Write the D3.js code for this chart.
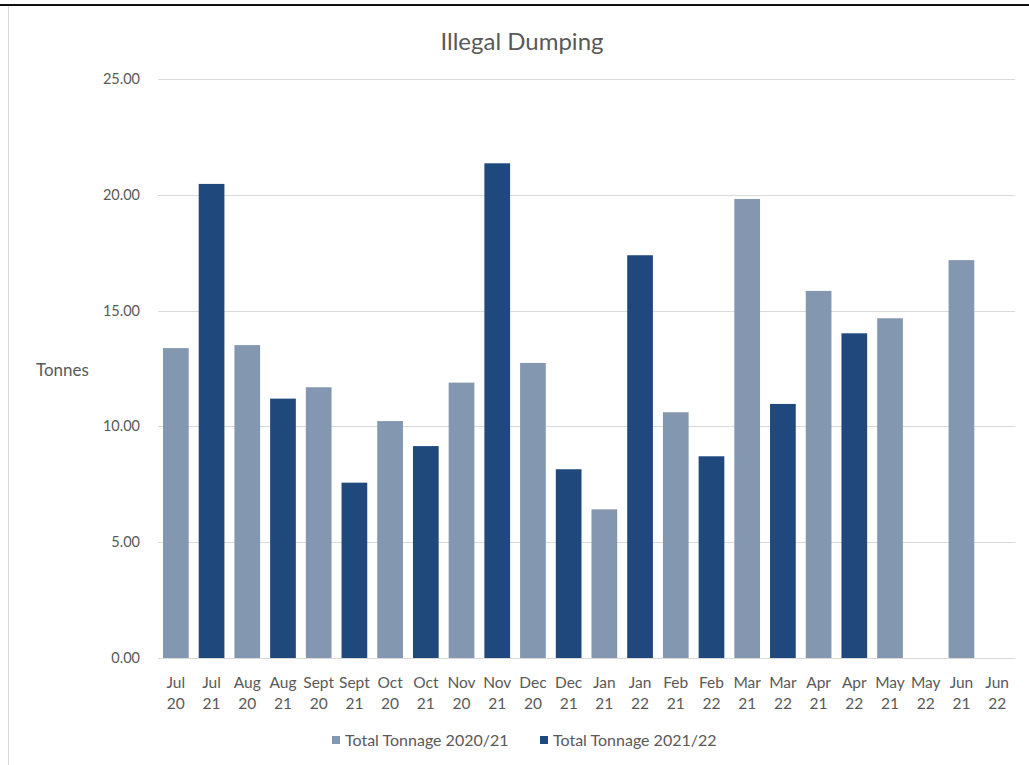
<!DOCTYPE html>
<html>
<head>
<meta charset="utf-8">
<script src="https://cdn.jsdelivr.net/npm/d3@7"></script>
<style>
  body { margin: 0; background: #fff; }
  svg { display: block; font-family: Lato, "Open Sans", sans-serif; }
</style>
</head>
<body>
<svg id="chart" width="1029" height="765"></svg>
<script>
// month labels on the x axis, two lines each (month / year)
const categories = [
  "Jul 20", "Jul 21", "Aug 20", "Aug 21", "Sept 20", "Sept 21",
  "Oct 20", "Oct 21", "Nov 20", "Nov 21", "Dec 20", "Dec 21",
  "Jan 21", "Jan 22", "Feb 21", "Feb 22", "Mar 21", "Mar 22",
  "Apr 21", "Apr 22", "May 21", "May 22", "Jun 21", "Jun 22"
];
// Total Tonnage 2020/21 -> the "xx 20 / xx 21" categories (even positions)
const tonnage2021 = [13.38, 13.51, 11.69, 10.23, 11.89, 12.74, 6.42, 10.61, 19.82, 15.85, 14.67, 17.18];
// Total Tonnage 2021/22 -> odd positions, May/Jun 22 not reported yet
const tonnage2122 = [20.47, 11.2, 7.57, 9.15, 21.36, 8.15, 17.39, 8.71, 10.97, 14.02, null, null];
const yTicks = [0, 5, 10, 15, 20, 25];

const seriesNames = ["Total Tonnage 2020/21", "Total Tonnage 2021/22"];
const colors = ["#8497b0", "#1f497d"];
const textColor = "#595959";

const svg = d3.select("#chart");

// frame: dark line on top, faint border on the left
svg.append("line")
  .attr("x1", 0).attr("x2", 1029).attr("y1", 5).attr("y2", 5)
  .attr("stroke", "#111").attr("stroke-width", 2);
svg.append("line")
  .attr("x1", 8.5).attr("x2", 8.5).attr("y1", 6).attr("y2", 765)
  .attr("stroke", "#d9d9d9");

// build one row per category; each carries its series index
const bars = categories.map((label, i) => {
  const s = i % 2;
  const v = (s === 0 ? tonnage2021 : tonnage2122)[Math.floor(i / 2)];
  return { label, series: s, value: v };
});

const x = d3.scaleBand()
  .domain(categories)
  .range([158, 1015])
  .paddingInner(0.28)
  .paddingOuter(0.14);

const y = d3.scaleLinear()
  .domain([0, 25])
  .range([658, 79]);

// gridlines
svg.append("g")
  .selectAll("line")
  .data(yTicks)
  .join("line")
  .attr("x1", 158).attr("x2", 1015)
  .attr("y1", (d) => Math.round(y(d)) + 0.5)
  .attr("y2", (d) => Math.round(y(d)) + 0.5)
  .attr("stroke", "#d9d9d9");

// y axis labels
svg.append("g")
  .selectAll("text")
  .data(yTicks)
  .join("text")
  .attr("x", 140)
  .attr("y", (d) => y(d) + 5)
  .attr("text-anchor", "end")
  .attr("font-size", 14.5)
  .attr("fill", textColor)
  .text(d3.format(".2f"));

// bars
svg.append("g")
  .selectAll("rect")
  .data(bars.filter((d) => d.value != null))
  .join("rect")
  .attr("x", (d) => x(d.label))
  .attr("width", x.bandwidth())
  .attr("y", (d) => y(d.value))
  .attr("height", (d) => y(0) - y(d.value))
  .attr("fill", (d) => colors[d.series]);

// x labels, split on the space into two lines
const xl = svg.append("g")
  .selectAll("text")
  .data(categories)
  .join("text")
  .attr("text-anchor", "middle")
  .attr("font-size", 15.5)
  .attr("fill", textColor);
xl.append("tspan")
  .attr("x", (d) => x(d) + x.bandwidth() / 2)
  .attr("y", 688)
  .text((d) => d.split(" ")[0]);
xl.append("tspan")
  .attr("x", (d) => x(d) + x.bandwidth() / 2)
  .attr("y", 709)
  .text((d) => d.split(" ")[1]);

// title and axis title
svg.append("text")
  .attr("x", 522).attr("y", 50)
  .attr("text-anchor", "middle")
  .attr("font-size", 24)
  .attr("fill", textColor)
  .text("Illegal Dumping");

svg.append("text")
  .attr("x", 36).attr("y", 376)
  .attr("font-size", 17)
  .attr("fill", textColor)
  .text("Tonnes");

// legend
const legend = svg.append("g")
  .selectAll("g")
  .data(seriesNames)
  .join("g")
  .attr("transform", (d, i) => `translate(${[332, 540][i]},741)`);
legend.append("rect")
  .attr("x", 0).attr("y", -5)
  .attr("width", 8).attr("height", 8)
  .attr("fill", (d, i) => colors[i]);
legend.append("text")
  .attr("x", 13).attr("y", 5)
  .attr("font-size", 16)
  .attr("fill", textColor)
  .text((d) => d);
</script>
</body>
</html>
